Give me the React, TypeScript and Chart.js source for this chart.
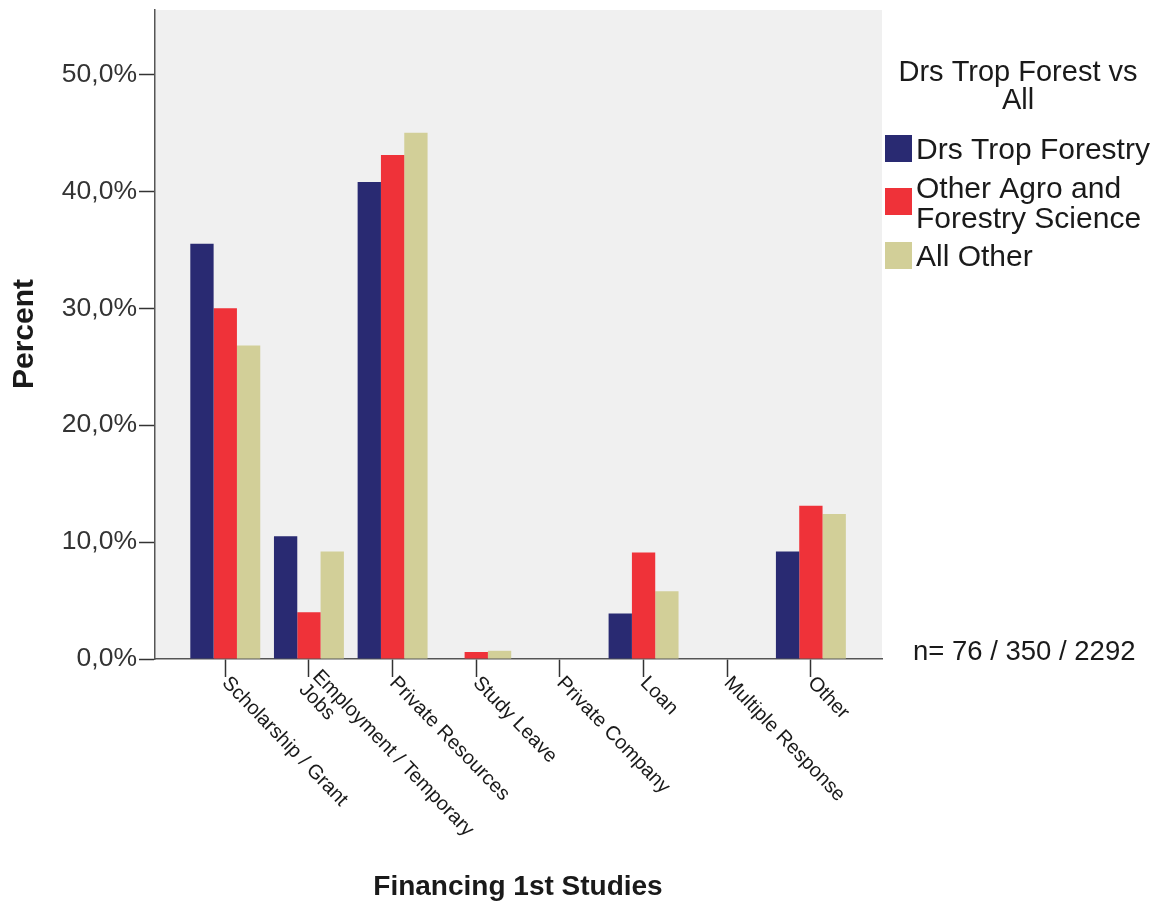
import React, { useEffect, useRef } from "react";
import { Chart, registerables } from "chart.js";

Chart.register(...registerables);

const categories: string[] = [
  "Scholarship / Grant",
  "Employment / Temporary\nJobs",
  "Private Resources",
  "Study Leave",
  "Private Company",
  "Loan",
  "Multiple Response",
  "Other",
];

const drsTropForestry: number[] = [35.5, 10.5, 40.8, 0, 0, 3.9, 0, 9.2];
const otherAgroForestry: number[] = [30.0, 4.0, 43.1, 0.6, 0, 9.1, 0, 13.1];
const allOther: number[] = [26.8, 9.2, 45.0, 0.7, 0, 5.8, 0, 12.4];

const seriesNames: string[] = ["Drs Trop Forestry", "Other Agro and\nForestry Science", "All Other"];
const seriesColors: string[] = ["#292a72", "#ef3239", "#d2cf98"];
const yTicks: number[] = [0, 10, 20, 30, 40, 50];
const legendTitle: string[] = ["Drs Trop Forest vs", "All"];
const nLabel = "n= 76 / 350 / 2292";
const xTitle = "Financing 1st Studies";
const yTitle = "Percent";

const FONT = "'Liberation Sans', Arial, sans-serif";

export default function App() {
  const ref = useRef<HTMLCanvasElement | null>(null);

  useEffect(() => {
    const canvas = ref.current;
    if (!canvas) return;

    const bgPlugin = {
      id: "bg",
      beforeDraw(chart: any) {
        const { ctx, chartArea } = chart;
        ctx.save();
        ctx.fillStyle = "#ffffff";
        ctx.fillRect(0, 0, chart.width, chart.height);
        ctx.fillStyle = "#f0f0f0";
        ctx.fillRect(chartArea.left, chartArea.top, chartArea.right - chartArea.left, chartArea.bottom - chartArea.top);
        ctx.restore();
      },
    };

    const textPlugin = {
      id: "texts",
      afterDraw(chart: any) {
        const { ctx, chartArea } = chart;
        const xs = chart.scales.x;
        ctx.save();
        ctx.fillStyle = "#1a1a1a";
        // rotated category labels
        ctx.font = `20px ${FONT}`;
        ctx.textAlign = "left";
        ctx.textBaseline = "middle";
        categories.forEach((label, i) => {
          const px = xs.getPixelForValue(i);
          const lines = label.split("\n");
          const lh = 19;
          ctx.save();
          ctx.translate(px, chartArea.bottom + 21);
          ctx.rotate((46 * Math.PI) / 180);
          lines.forEach((ln, k) => {
            ctx.fillText(ln, 0, -((lines.length - 1) * lh) / 2 + k * lh);
          });
          ctx.restore();
        });
        // x title
        ctx.font = `bold 28px ${FONT}`;
        ctx.textAlign = "center";
        ctx.fillText(xTitle, 518, 887);
        // y title
        ctx.save();
        ctx.translate(25, 334);
        ctx.rotate(-Math.PI / 2);
        ctx.font = `bold 30px ${FONT}`;
        ctx.fillText(yTitle, 0, 0);
        ctx.restore();
        // legend title
        ctx.font = `29px ${FONT}`;
        ctx.fillText(legendTitle[0], 1018, 73);
        ctx.fillText(legendTitle[1], 1018, 101);
        // legend items
        ctx.font = `30px ${FONT}`;
        const boxTops = [135, 188, 242];
        const textYs = [[151], [190, 220], [258]];
        ctx.textAlign = "left";
        seriesNames.forEach((name, i) => {
          ctx.fillStyle = seriesColors[i];
          ctx.fillRect(885, boxTops[i], 27, 27);
          ctx.fillStyle = "#1a1a1a";
          name.split("\n").forEach((ln, k) => {
            ctx.fillText(ln, 916, textYs[i][k]);
          });
        });
        // n label
        ctx.font = `27.5px ${FONT}`;
        ctx.fillText(nLabel, 913, 652);
        ctx.restore();
      },
    };

    const mk = (vals: number[]) => vals.map((v, i) => ({ x: i, y: v }));

    const chart = new Chart(canvas, {
      type: "bar",
      data: {
        datasets: [
          { label: seriesNames[0], data: mk(drsTropForestry), backgroundColor: seriesColors[0] },
          { label: seriesNames[1], data: mk(otherAgroForestry), backgroundColor: seriesColors[1] },
          { label: seriesNames[2], data: mk(allOther), backgroundColor: seriesColors[2] },
        ] as any,
      },
      options: {
        animation: false,
        responsive: false,
        maintainAspectRatio: false,
        layout: { padding: { top: 10, right: 280, left: 0, bottom: 0 } },
        datasets: { bar: { categoryPercentage: 0.836, barPercentage: 1 } },
        plugins: { legend: { display: false }, tooltip: { enabled: false }, title: { display: false } },
        scales: {
          x: {
            type: "linear",
            offset: false,
            min: -0.84,
            max: 7.85,
            afterBuildTicks: (s: any) => {
              s.ticks = categories.map((_, i) => ({ value: i }));
            },
            afterFit: (s: any) => {
              s.height = 249;
              s.paddingLeft = 0;
              s.paddingRight = 0;
            },
            ticks: { display: false },
            grid: { display: true, offset: false, drawOnChartArea: false, drawTicks: true, tickLength: 18, color: "#333", tickWidth: 1.5 },
            border: { display: true, color: "#555", width: 1.5 },
          },
          y: {
            type: "linear",
            min: 0,
            max: 55.5,
            afterBuildTicks: (s: any) => {
              s.ticks = yTicks.map((v) => ({ value: v }));
            },
            afterFit: (s: any) => {
              s.width = 155;
              s.paddingTop = 0;
              s.paddingBottom = 0;
            },
            ticks: {
              font: { family: FONT, size: 26.5 },
              color: "#333",
              padding: 2,
              callback: (v: any) => Number(v).toFixed(1).replace(".", ",") + "%",
            },
            grid: { display: true, drawOnChartArea: false, drawTicks: true, tickLength: 16, color: "#333", tickWidth: 1.5 },
            border: { display: true, color: "#555", width: 1.5 },
          },
        },
      } as any,
      plugins: [bgPlugin, textPlugin],
    });
    return () => chart.destroy();
  }, []);

  return (
    <div style={{ position: "absolute", left: 0, top: 0, width: 1162, height: 908 }}>
      <canvas ref={ref} width={1162} height={908} style={{ width: 1162, height: 908, display: "block" }} />
    </div>
  );
}
